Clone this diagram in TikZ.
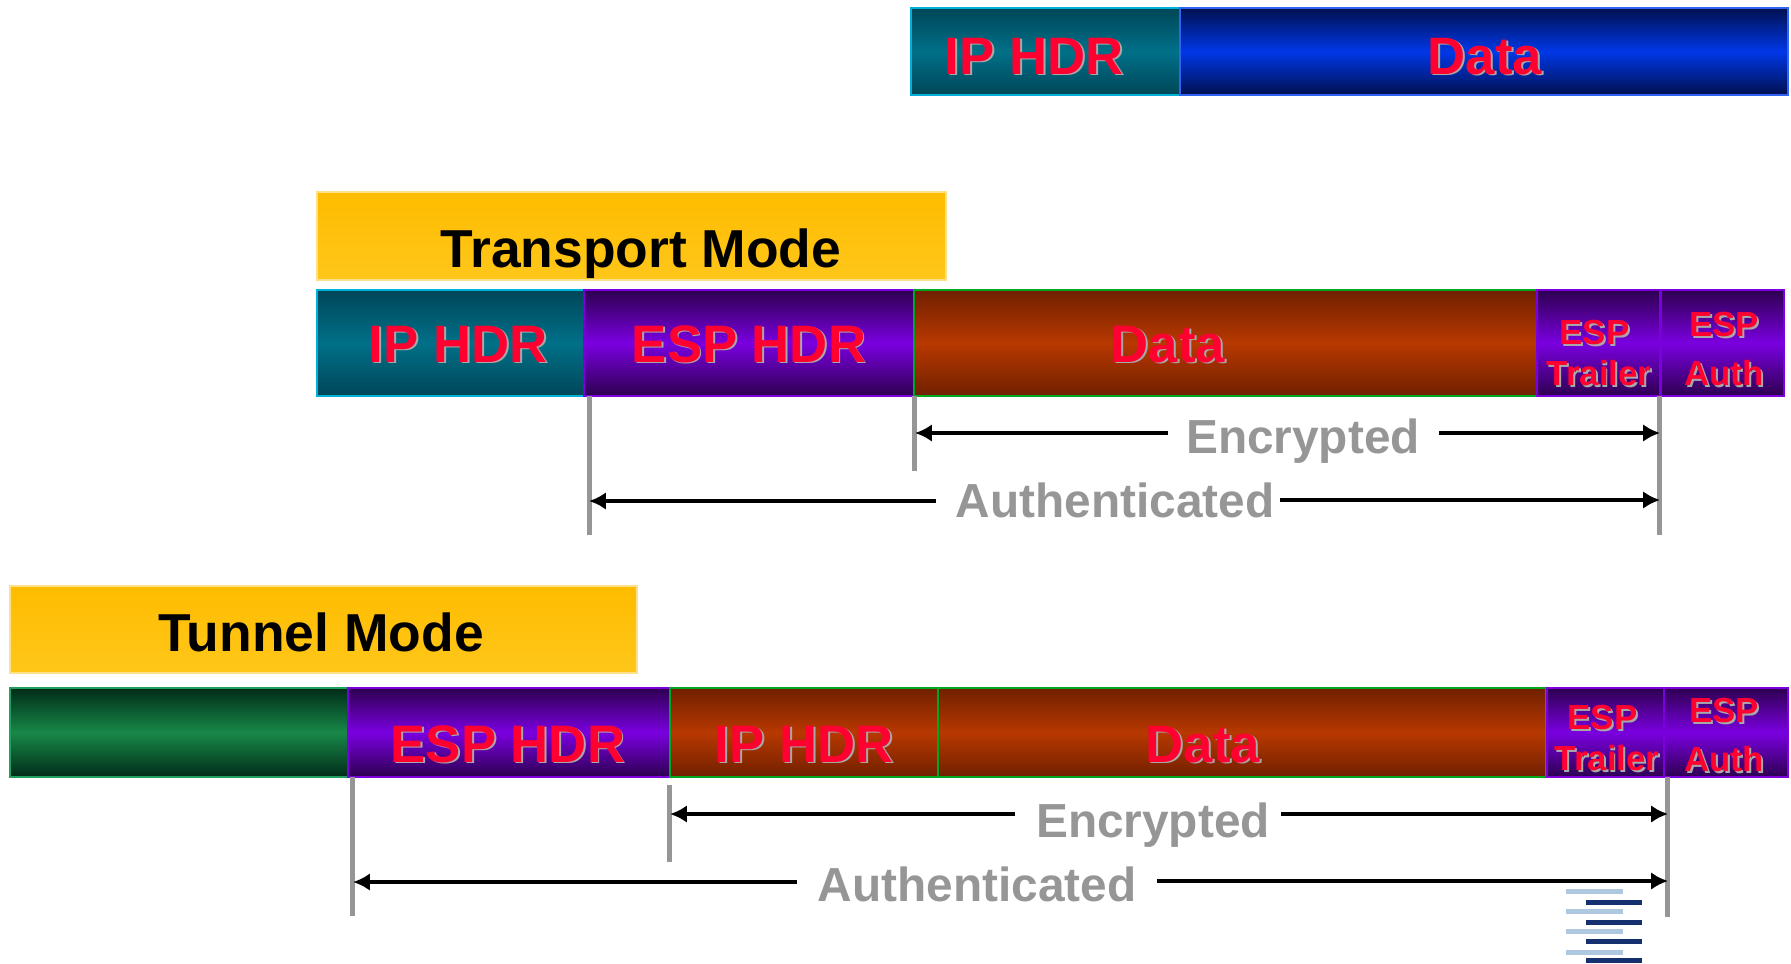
\documentclass[tikz,border=0pt]{standalone}
\usepackage{fontspec}
\setmainfont{Liberation Sans}
\usetikzlibrary{arrows.meta}

\definecolor{textred}{HTML}{FF0030}
\definecolor{shadowgray}{HTML}{A8A8A8}
\definecolor{markgray}{HTML}{969696}
\newcommand{\shadowed}[1]{\leavevmode\rlap{\raisebox{-0.55pt}{\kern0.55pt\textcolor{shadowgray}{#1}}}#1}

\tikzset{
    box/.style={rectangle, anchor=north west, inner sep=0pt, outer sep=0pt, line width=0.8pt},
    tealbox/.style={box, draw={rgb,255:red,0;green,176;blue,216}, top color={rgb,255:red,0;green,70;blue,88}, bottom color={rgb,255:red,0;green,70;blue,88}, middle color={rgb,255:red,0;green,112;blue,136}},
    bluebox/.style={box, draw={rgb,255:red,48;green,100;blue,240}, top color={rgb,255:red,0;green,16;blue,80}, bottom color={rgb,255:red,0;green,16;blue,80}, middle color={rgb,255:red,0;green,56;blue,232}},
    purplebox/.style={box, draw={rgb,255:red,123;green,0;blue,221}, top color={rgb,255:red,45;green,0;blue,80}, bottom color={rgb,255:red,45;green,0;blue,80}, middle color={rgb,255:red,122;green,0;blue,224}},
    brownbox/.style={box, draw={rgb,255:red,0;green,168;blue,32}, top color={rgb,255:red,112;green,32;blue,0}, bottom color={rgb,255:red,112;green,32;blue,0}, middle color={rgb,255:red,184;green,56;blue,0}},
    greenbox/.style={box, draw={rgb,255:red,31;green,160;blue,96}, top color={rgb,255:red,0;green,44;blue,24}, bottom color={rgb,255:red,0;green,44;blue,24}, middle color={rgb,255:red,24;green,136;blue,72}},
    titlebox/.style={box, draw={rgb,255:red,255;green,224;blue,138}, top color={rgb,255:red,255;green,188;blue,0}, bottom color={rgb,255:red,255;green,199;blue,26}},
    bigtext/.style={anchor=base, inner sep=0pt, text=textred, font=\fontsize{15}{18}\selectfont\bfseries},
    smalltext/.style={anchor=center, inner sep=0pt, align=center, text=textred, font=\fontsize{9.9}{12.2}\selectfont\bfseries},
    titletext/.style={anchor=base, inner sep=0pt, font=\fontsize{15.2}{18}\selectfont\bfseries},
    spantext/.style={anchor=base, inner sep=0pt, text=markgray, font=\fontsize{13.6}{16}\selectfont\bfseries},
    tick/.style={draw=markgray, line width=1.42pt},
    span/.style={draw=black, line width=1.05pt, -{Latex[length=4.8pt, width=5pt]}},
}

\begin{document}
\begin{tikzpicture}
    \useasboundingbox (0,0) rectangle (17.91,9.63);

    % original packet
    \node[tealbox, minimum width=2.69cm, minimum height=0.87cm] (ip) at (9.11, 9.55) {};
    \node[bluebox, minimum width=6.08cm, minimum height=0.87cm] (data) at (11.80, 9.55) {};
    \node[bigtext] (iplabel) at (10.34, 8.89) {\shadowed{IP HDR}};
    \node[bigtext] (datalabel) at (14.85, 8.89) {\shadowed{Data}};

    % transport mode
    \node[titlebox, minimum width=6.29cm, minimum height=0.88cm] (ttitle) at (3.17, 7.71) {};
    \node[titletext] (ttitlelabel) at (6.41, 6.96) {Transport Mode};
    \node[tealbox, minimum width=2.67cm, minimum height=1.06cm] (tip) at (3.17, 6.73) {};
    \node[purplebox, minimum width=3.30cm, minimum height=1.06cm] (tesp) at (5.84, 6.73) {};
    \node[brownbox, minimum width=6.23cm, minimum height=1.06cm] (tdata) at (9.14, 6.73) {};
    \node[purplebox, minimum width=1.23cm, minimum height=1.06cm] (ttrail) at (15.37, 6.73) {};
    \node[purplebox, minimum width=1.23cm, minimum height=1.06cm] (tauth) at (16.61, 6.73) {};
    \node[bigtext] (tiplabel) at (4.58, 6.01) {\shadowed{IP HDR}};
    \node[bigtext] (tesplabel) at (7.49, 6.01) {\shadowed{ESP HDR}};
    \node[bigtext] (tdatalabel) at (11.68, 6.01) {\shadowed{Data}};
    \node[smalltext] (ttraillabel) at (15.99, 6.09) {\shadowed{ESP}\kern2.6pt\\[-0.6pt]\shadowed{Trailer}};
    \node[smalltext] (tauthlabel) at (17.24, 6.13) {\shadowed{ESP}\\[1.7pt]\shadowed{Auth}};

    \coordinate (tenctop) at (9.14, 5.67);
    \coordinate (tencbot) at (9.14, 4.92);
    \coordinate (tauthtop) at (5.89, 5.67);
    \coordinate (tauthbot) at (5.89, 4.28);
    \coordinate (tendtop) at (16.59, 5.67);
    \coordinate (tendbot) at (16.59, 4.28);
    \draw[tick] (tenctop) -- (tencbot);
    \draw[tick] (tauthtop) -- (tauthbot);
    \draw[tick] (tendtop) -- (tendbot);

    \node[spantext] (tenclabel) at (13.03, 5.10) {Encrypted};
    \node[spantext] (tauthspan) at (11.15, 4.46) {Authenticated};
    \coordinate (tenca) at (11.68, 5.30);
    \coordinate (tencb) at (14.39, 5.30);
    \coordinate (tencl) at (9.15, 5.30);
    \coordinate (tencr) at (16.60, 5.30);
    \coordinate (tautha) at (9.36, 4.62);
    \coordinate (tauthb) at (12.80, 4.63);
    \coordinate (tauthl) at (5.89, 4.62);
    \coordinate (tauthr) at (16.60, 4.63);
    \draw[span] (tenca) -- (tencl);
    \draw[span] (tencb) -- (tencr);
    \draw[span] (tautha) -- (tauthl);
    \draw[span] (tauthb) -- (tauthr);

    % tunnel mode
    \node[titlebox, minimum width=6.27cm, minimum height=0.87cm] (ntitle) at (0.10, 3.77) {};
    \node[titletext] (ntitlelabel) at (3.21, 3.12) {Tunnel Mode};
    \node[greenbox, minimum width=3.38cm, minimum height=0.89cm] (ngreen) at (0.10, 2.75) {};
    \node[purplebox, minimum width=3.22cm, minimum height=0.89cm] (nesp) at (3.48, 2.75) {};
    \node[brownbox, minimum width=2.68cm, minimum height=0.89cm] (nip) at (6.70, 2.75) {};
    \node[brownbox, minimum width=6.08cm, minimum height=0.89cm] (ndata) at (9.38, 2.75) {};
    \node[purplebox, minimum width=1.18cm, minimum height=0.89cm] (ntrail) at (15.47, 2.75) {};
    \node[purplebox, minimum width=1.24cm, minimum height=0.89cm] (nauth) at (16.64, 2.75) {};
    \node[bigtext] (nesplabel) at (5.08, 2.01) {\shadowed{ESP HDR}};
    \node[bigtext] (niplabel) at (8.04, 2.01) {\shadowed{IP HDR}};
    \node[bigtext] (ndatalabel) at (12.03, 2.01) {\shadowed{Data}};
    \node[smalltext] (ntraillabel) at (16.07, 2.24) {\shadowed{ESP}\kern2.6pt\\[-0.6pt]\shadowed{Trailer}};
    \node[smalltext] (nauthlabel) at (17.24, 2.27) {\shadowed{ESP}\\[1.7pt]\shadowed{Auth}};

    \coordinate (nenctop) at (6.69, 1.78);
    \coordinate (nencbot) at (6.69, 1.01);
    \coordinate (nauthtop) at (3.52, 1.86);
    \coordinate (nauthbot) at (3.52, 0.47);
    \coordinate (nendtop) at (16.67, 1.86);
    \coordinate (nendbot) at (16.67, 0.46);
    \draw[tick] (nenctop) -- (nencbot);
    \draw[tick] (nauthtop) -- (nauthbot);
    \draw[tick] (nendtop) -- (nendbot);

    \node[spantext] (nenclabel) at (11.53, 1.26) {Encrypted};
    \node[spantext] (nauthspan) at (9.77, 0.62) {Authenticated};
    \coordinate (nenca) at (10.15, 1.49);
    \coordinate (nencb) at (12.81, 1.49);
    \coordinate (nencl) at (6.70, 1.49);
    \coordinate (nencr) at (16.68, 1.49);
    \coordinate (nautha) at (7.97, 0.81);
    \coordinate (nauthb) at (11.57, 0.82);
    \coordinate (nauthl) at (3.53, 0.81);
    \coordinate (nauthr) at (16.68, 0.82);
    \draw[span] (nenca) -- (nencl);
    \draw[span] (nencb) -- (nencr);
    \draw[span] (nautha) -- (nauthl);
    \draw[span] (nauthb) -- (nauthr);

    % bars in the corner
    \foreach \y in {0.69, 0.49, 0.29, 0.08} {
        \fill[fill={rgb,255:red,174;green,200;blue,224}] (15.66, \y) rectangle (16.23, \y+0.05);
    }
    \foreach \y in {0.58, 0.38, 0.19, 0} {
        \fill[fill={rgb,255:red,20;green,48;blue,110}] (15.86, \y) rectangle (16.42, \y+0.05);
    }
\end{tikzpicture}
\end{document}
